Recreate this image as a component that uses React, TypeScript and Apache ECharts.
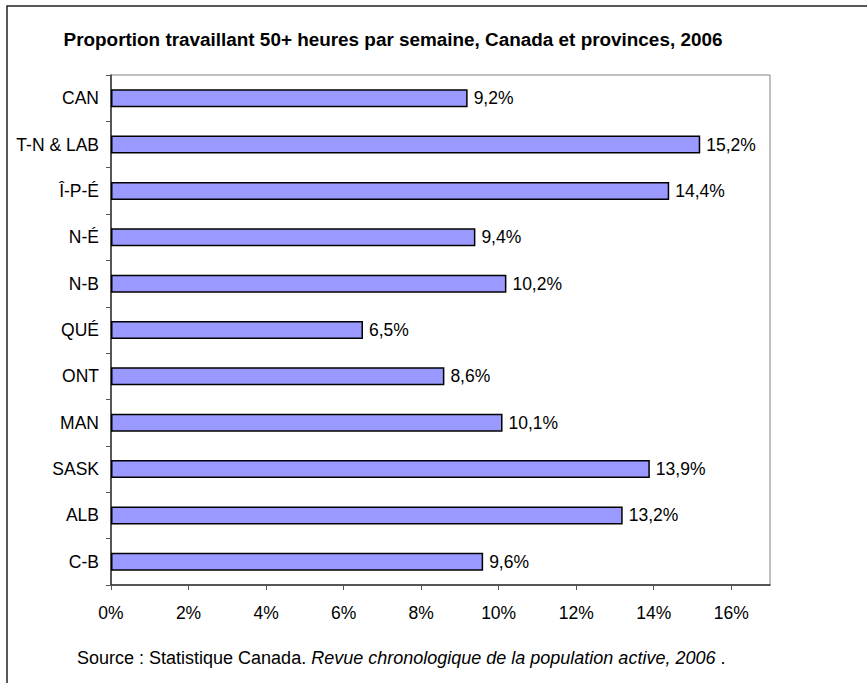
import React, { useEffect, useRef } from "react";
import * as echarts from "echarts";

const categories = ["CAN", "T-N & LAB", "Î-P-É", "N-É", "N-B", "QUÉ", "ONT", "MAN", "SASK", "ALB", "C-B"];
const values = [9.2, 15.2, 14.4, 9.4, 10.2, 6.5, 8.6, 10.1, 13.9, 13.2, 9.6];
const xTicks = [0, 2, 4, 6, 8, 10, 12, 14, 16];
const title = "Proportion travaillant 50+ heures par semaine, Canada et provinces, 2006";
const sourcePlain = "Source : Statistique Canada. ";
const sourceItalic = "Revue chronologique de la population active, 2006";

const FONT = "'Liberation Sans', Arial, sans-serif";

export default function App() {
  const ref = useRef<HTMLDivElement>(null);
  useEffect(() => {
    const chart = echarts.init(ref.current!, null, { renderer: "svg" });
    chart.setOption({
      animation: false,
      backgroundColor: "#ffffff",
      textStyle: { fontFamily: FONT },
      grid: {
        left: 111,
        top: 75,
        right: 97,
        bottom: 98,
        show: true,
        borderColor: "#808080",
        borderWidth: 1,
      },
      xAxis: {
        type: "value",
        min: 0,
        max: 17,
        interval: 2,
        splitLine: { show: false },
        axisLine: { show: true, lineStyle: { color: "#333333", width: 1.5 } },
        axisTick: { show: true, length: 5, lineStyle: { color: "#555555" } },
        axisLabel: {
          margin: 19,
          fontSize: 17.5,
          color: "#000",
          fontFamily: FONT,
          showMaxLabel: false,
          formatter: (v: number) => (xTicks.includes(v) ? v + "%" : ""),
        },
      },
      yAxis: {
        type: "category",
        data: categories,
        inverse: true,
        axisLine: { show: true, lineStyle: { color: "#333333", width: 1.5 } },
        axisTick: { show: true, length: 5, lineStyle: { color: "#555555" } },
        axisLabel: { margin: 12, fontSize: 17.5, color: "#000", fontFamily: FONT },
      },
      series: [
        {
          type: "bar",
          data: values,
          barWidth: 18,
          itemStyle: { color: "#9999FF", borderColor: "#000", borderWidth: 1.5 },
          label: {
            show: true,
            position: "right",
            distance: 6,
            fontSize: 17.5,
            color: "#000",
            fontFamily: FONT,
            formatter: (p: any) => String(p.value).replace(".", ",") + "%",
          },
        },
      ],
      graphic: [
        {
          type: "rect",
          shape: { x: 7, y: 6, width: 900, height: 700 },
          style: { fill: "none", stroke: "#222", lineWidth: 1.5 },
          silent: true,
        },
        {
          type: "text",
          x: 393,
          y: 39,
          style: {
            text: title,
            textAlign: "center",
            textVerticalAlign: "middle",
            font: "bold 18.9px " + FONT,
            fill: "#000",
          },
        },
        {
          type: "text",
          x: 77,
          y: 658,
          style: {
            text: "{a|" + sourcePlain + "}{b|" + sourceItalic + "}{a| .}",
            textVerticalAlign: "middle",
            rich: {
              a: { fontSize: 18, fontFamily: FONT, color: "#000" },
              b: { fontSize: 18, fontFamily: FONT, fontStyle: "italic", color: "#000" },
            },
          },
        },
      ],
    });
    return () => chart.dispose();
  }, []);
  return (
    <div
      ref={ref}
      style={{ position: "fixed", left: 0, top: 0, width: 867, height: 683 }}
    />
  );
}
